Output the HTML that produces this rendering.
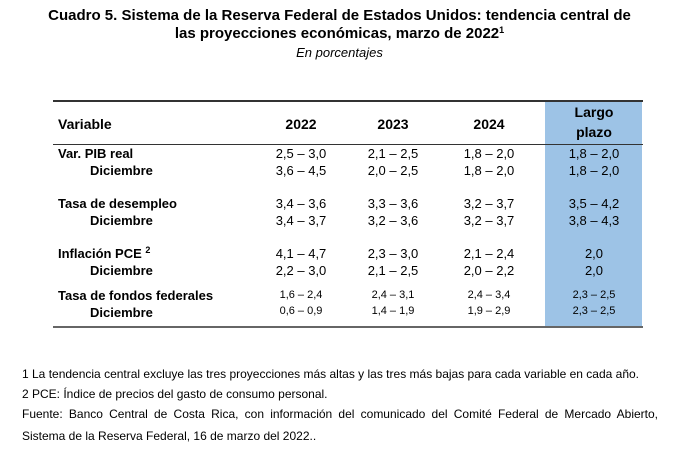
<!DOCTYPE html>
<html><head><meta charset="utf-8"><style>
body{margin:0;width:679px;height:449px;background:#fff;font-family:"Liberation Sans",Arial,sans-serif;color:#000;position:relative;overflow:hidden}
.a{position:absolute;white-space:nowrap}
.t{font-weight:bold;font-size:15px;left:0;width:679px;text-align:center}
.b{font-weight:bold}
.c{font-size:13px;text-align:center;width:90px;margin-left:-45px}
.s{font-size:11px}
.l{font-size:13px}
.f{font-size:12px;left:22px}
.hr{position:absolute;left:53px;width:590px;background:#333}
.sp{font-size:9px;position:relative;top:-5px;line-height:0}
</style></head><body>
<div class="a t" style="top:7px">Cuadro 5. Sistema de la Reserva Federal de Estados Unidos: tendencia central de</div>
<div class="a t" style="top:25px">las proyecciones económicas, marzo de 2022<span class="sp">1</span></div>
<div class="a" style="top:45px;left:0;width:679px;text-align:center;font-style:italic;font-size:13px">En porcentajes</div>
<div style="position:absolute;left:545px;top:101px;width:97px;height:226px;background:#9dc3e6"></div>
<div class="hr" style="top:100px;height:2px"></div>
<div class="hr" style="top:144px;height:1px"></div>
<div class="hr" style="top:326px;height:2px;background:#666"></div>
<div class="a b" style="left:58px;top:116px;font-size:14px">Variable</div>
<div class="a b c" style="left:301px;top:116px;font-size:14px">2022</div>
<div class="a b c" style="left:393px;top:116px;font-size:14px">2023</div>
<div class="a b c" style="left:489px;top:116px;font-size:14px">2024</div>
<div class="a b c" style="left:594px;top:102px;font-size:14px;line-height:20px">Largo<br>plazo</div>

<div class="a b l" style="left:58px;top:146px">Var. PIB real</div>
<div class="a b l" style="left:90px;top:163px">Diciembre</div>
<div class="a b l" style="left:58px;top:196px">Tasa de desempleo</div>
<div class="a b l" style="left:90px;top:213px">Diciembre</div>
<div class="a b l" style="left:58px;top:246px">Inflación PCE <span class="sp">2</span></div>
<div class="a b l" style="left:90px;top:263px">Diciembre</div>
<div class="a b l" style="left:58px;top:288px">Tasa de fondos federales</div>
<div class="a b l" style="left:90px;top:305px">Diciembre</div>

<div class="a c" style="left:301px;top:146px">2,5 – 3,0</div>
<div class="a c" style="left:393px;top:146px">2,1 – 2,5</div>
<div class="a c" style="left:489px;top:146px">1,8 – 2,0</div>
<div class="a c" style="left:594px;top:146px">1,8 – 2,0</div>
<div class="a c" style="left:301px;top:163px">3,6 – 4,5</div>
<div class="a c" style="left:393px;top:163px">2,0 – 2,5</div>
<div class="a c" style="left:489px;top:163px">1,8 – 2,0</div>
<div class="a c" style="left:594px;top:163px">1,8 – 2,0</div>

<div class="a c" style="left:301px;top:196px">3,4 – 3,6</div>
<div class="a c" style="left:393px;top:196px">3,3 – 3,6</div>
<div class="a c" style="left:489px;top:196px">3,2 – 3,7</div>
<div class="a c" style="left:594px;top:196px">3,5 – 4,2</div>
<div class="a c" style="left:301px;top:213px">3,4 – 3,7</div>
<div class="a c" style="left:393px;top:213px">3,2 – 3,6</div>
<div class="a c" style="left:489px;top:213px">3,2 – 3,7</div>
<div class="a c" style="left:594px;top:213px">3,8 – 4,3</div>

<div class="a c" style="left:301px;top:246px">4,1 – 4,7</div>
<div class="a c" style="left:393px;top:246px">2,3 – 3,0</div>
<div class="a c" style="left:489px;top:246px">2,1 – 2,4</div>
<div class="a c" style="left:594px;top:246px">2,0</div>
<div class="a c" style="left:301px;top:263px">2,2 – 3,0</div>
<div class="a c" style="left:393px;top:263px">2,1 – 2,5</div>
<div class="a c" style="left:489px;top:263px">2,0 – 2,2</div>
<div class="a c" style="left:594px;top:263px">2,0</div>

<div class="a c s" style="left:301px;top:289px">1,6 – 2,4</div>
<div class="a c s" style="left:393px;top:289px">2,4 – 3,1</div>
<div class="a c s" style="left:489px;top:289px">2,4 – 3,4</div>
<div class="a c s" style="left:594px;top:289px">2,3 – 2,5</div>
<div class="a c s" style="left:301px;top:305px">0,6 – 0,9</div>
<div class="a c s" style="left:393px;top:305px">1,4 – 1,9</div>
<div class="a c s" style="left:489px;top:305px">1,9 – 2,9</div>
<div class="a c s" style="left:594px;top:305px">2,3 – 2,5</div>

<div class="a f" style="top:367px">1 La tendencia central excluye las tres proyecciones más altas y las tres más bajas para cada variable en cada año.</div>
<div class="a f" style="top:387px">2 PCE: Índice de precios del gasto de consumo personal.</div>
<div class="a f" style="top:407px;width:636px;text-align:justify;text-align-last:justify">Fuente: Banco Central de Costa Rica, con información del comunicado del Comité Federal de Mercado Abierto,</div>
<div class="a f" style="top:429px">Sistema de la Reserva Federal, 16 de marzo del 2022..</div>
</body></html>
